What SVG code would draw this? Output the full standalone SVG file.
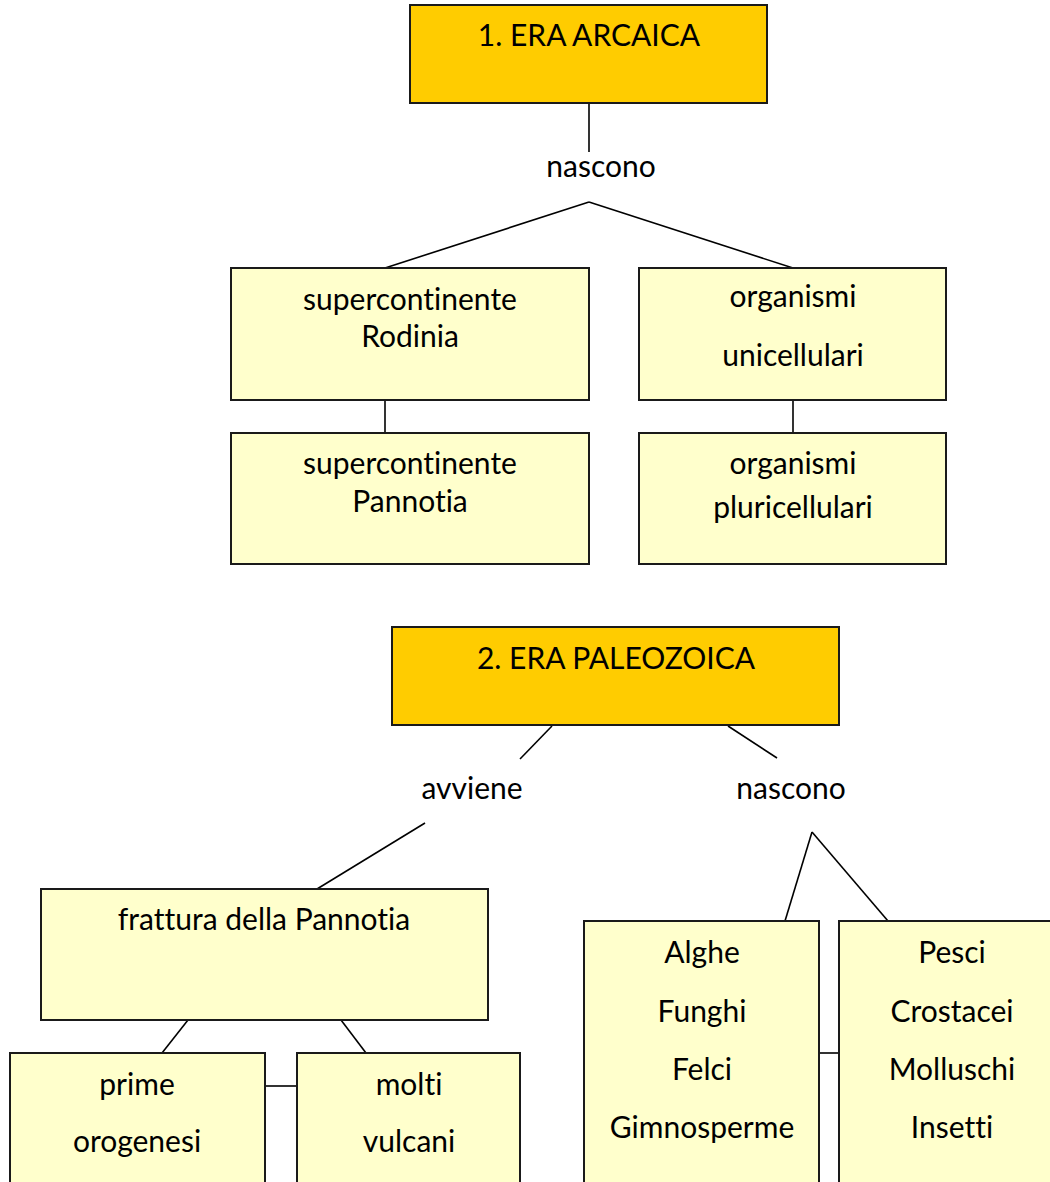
<svg xmlns="http://www.w3.org/2000/svg" width="1050" height="1182" viewBox="0 0 1050 1182">
<style>
.era{fill:#FFCC00;stroke:#1a1a1a;stroke-width:2}
.box{fill:#FFFFCC;stroke:#1a1a1a;stroke-width:2}
text{font-family:Lato,"Liberation Sans",sans-serif;font-size:30px;fill:#000;text-anchor:middle;font-variant-ligatures:none;font-feature-settings:"liga" 0}
.c line{stroke:#000;stroke-width:1.6}
</style>
<rect width="1050" height="1182" fill="#fff"/>
<g class="c" id="connectors">
<line x1="589" y1="103" x2="589" y2="152"/>
<line x1="589" y1="202" x2="385" y2="268"/>
<line x1="589" y1="202" x2="793" y2="268"/>
<line x1="385" y1="400" x2="385" y2="433"/>
<line x1="793" y1="400" x2="793" y2="433"/>
<line x1="552" y1="726" x2="520" y2="759"/>
<line x1="728" y1="726" x2="777" y2="758"/>
<line x1="425" y1="823" x2="317" y2="889"/>
<line x1="812" y1="832" x2="785" y2="921"/>
<line x1="812" y1="832" x2="888" y2="921"/>
<line x1="188" y1="1020" x2="162" y2="1053"/>
<line x1="341" y1="1020" x2="366" y2="1053"/>
<line x1="265" y1="1086" x2="297" y2="1086"/>
<line x1="819" y1="1053" x2="839" y2="1053"/>
</g>
<g id="era1"><rect class="era" x="410" y="5" width="357" height="98"/><text x="589" y="46">1. ERA ARCAICA</text></g>
<g id="lbl1"><text x="601" y="177">nascono</text></g>
<g id="rodinia"><rect class="box" x="231" y="268" width="358" height="132"/><text x="410" y="310">supercontinente</text><text x="410" y="347">Rodinia</text></g>
<g id="unicell"><rect class="box" x="639" y="268" width="307" height="132"/><text x="793" y="307">organismi</text><text x="793" y="366">unicellulari</text></g>
<g id="pannotia"><rect class="box" x="231" y="433" width="358" height="131"/><text x="410" y="474">supercontinente</text><text x="410" y="512">Pannotia</text></g>
<g id="pluricell"><rect class="box" x="639" y="433" width="307" height="131"/><text x="793" y="474">organismi</text><text x="793" y="518">pluricellulari</text></g>
<g id="era2"><rect class="era" x="392" y="627" width="447" height="98"/><text x="616" y="669">2. ERA PALEOZOICA</text></g>
<g id="lbl2"><text x="472" y="799">avviene</text></g>
<g id="lbl3"><text x="791" y="799">nascono</text></g>
<g id="frattura"><rect class="box" x="41" y="889" width="447" height="131"/><text x="264" y="930">frattura della Pannotia</text></g>
<g id="orogenesi"><rect class="box" x="10" y="1053" width="255" height="140"/><text x="137" y="1095">prime</text><text x="137" y="1152">orogenesi</text></g>
<g id="vulcani"><rect class="box" x="297" y="1053" width="223" height="140"/><text x="409" y="1095">molti</text><text x="409" y="1152">vulcani</text></g>
<g id="piante"><rect class="box" x="584" y="921" width="235" height="272"/><text x="702" y="963">Alghe</text><text x="702" y="1022">Funghi</text><text x="702" y="1080">Felci</text><text x="702" y="1138">Gimnosperme</text></g>
<g id="animali"><rect class="box" x="839" y="921" width="220" height="272"/><text x="952" y="963">Pesci</text><text x="952" y="1022">Crostacei</text><text x="952" y="1080">Molluschi</text><text x="952" y="1138">Insetti</text></g>
</svg>
